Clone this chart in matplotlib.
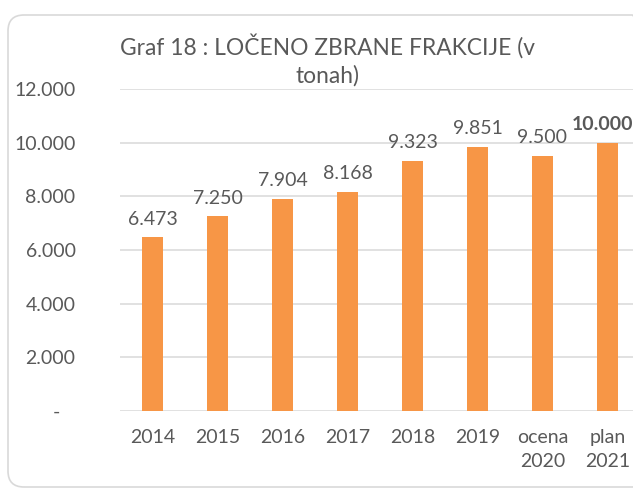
import matplotlib
matplotlib.use("Agg")
import matplotlib.pyplot as plt
from matplotlib.patches import FancyBboxPatch
from matplotlib.transforms import IdentityTransform

plt.rcParams["font.family"] = ["Lato", "DejaVu Sans"]

TEXT = "#595959"
GRID = "#D9D9D9"
ORANGE = "#F79646"

# podatki
categories = ["2014", "2015", "2016", "2017", "2018", "2019", "ocena\n2020", "plan\n2021"]
values = [6473, 7250, 7904, 8168, 9323, 9851, 9500, 10000]
yticks = [0, 2000, 4000, 6000, 8000, 10000, 12000]


def fmt(v):
    return "-   " if v == 0 else f"{v:,}".replace(",", ".")


fig = plt.figure(figsize=(6.33, 4.92), dpi=100)
fig.patches.append(FancyBboxPatch((8, 5), 640, 472,
                                  boxstyle="round,pad=0,rounding_size=16",
                                  transform=IdentityTransform(), zorder=-5,
                                  facecolor="none", edgecolor=GRID, lw=1.2))

ax = fig.add_axes([120 / 633, 81 / 492, 520 / 633, 322 / 492])
ax.set_facecolor("none")
x = range(len(values))
ax.bar(x, values, width=0.31, color=ORANGE, zorder=3)
ax.set_xlim(-0.5, len(values) - 0.5)
ax.set_ylim(0, 12000)
ax.set_yticks(yticks)
ax.set_yticklabels([fmt(v) for v in yticks])
ax.set_xticks(list(x))
ax.set_xticklabels(categories, linespacing=1.5, va="top")
ax.grid(axis="y", color=GRID, lw=1.1, zorder=0)
for s in ax.spines.values():
    s.set_visible(False)
ax.tick_params(length=0, colors=TEXT, labelsize=14)
ax.tick_params(axis="y", pad=32)
ax.tick_params(axis="x", pad=13)

for i, v in enumerate(values):
    last = i == len(values) - 1
    ax.annotate(fmt(v), (i - (0.08 if last else 0), v), xytext=(0, 7),
                textcoords="offset points", ha="center", va="bottom",
                fontsize=14, color=TEXT, fontweight="bold" if last else "normal")

fig.text(327 / 633, 1 - 60 / 492, "Graf 18 : LOČENO ZBRANE FRAKCIJE (v\ntonah)",
         ha="center", va="center", multialignment="center", fontsize=16.4,
         color=TEXT, linespacing=1.4)

fig.savefig("out.png", dpi=100)
